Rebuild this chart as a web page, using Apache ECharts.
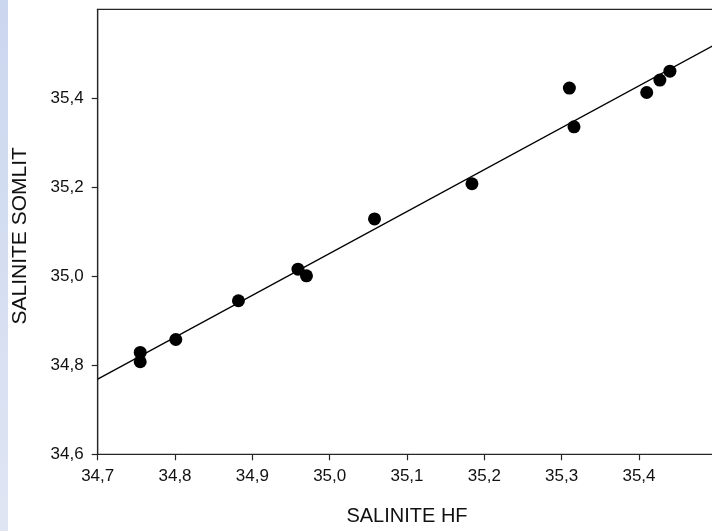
<!DOCTYPE html>
<html>
<head>
<meta charset="utf-8">
<script src="https://cdn.jsdelivr.net/npm/echarts@6/dist/echarts.min.js"></script>
<style>
  html, body { margin: 0; padding: 0; background: #fff; }
  #strip { position: absolute; left: 0; top: 0; width: 8px; height: 531px;
           background: linear-gradient(to bottom, #cbd7ef, #dfe5f3); }
  #chart { position: absolute; left: 0; top: 0; width: 712px; height: 531px; }
</style>
</head>
<body>
<div id="strip"></div>
<div id="chart"></div>
<script>
// Data
const salHF     = [34.755, 34.755, 34.801, 34.882, 34.959, 34.970, 35.058, 35.184, 35.310, 35.316, 35.410, 35.427, 35.440];
const salSOMLIT = [34.829, 34.808, 34.858, 34.945, 35.016, 35.001, 35.129, 35.208, 35.423, 35.336, 35.413, 35.441, 35.461];
const fitX = [34.7, 35.5];
const fitY = [34.769, 35.522];
const xTicks = [34.7, 34.8, 34.9, 35.0, 35.1, 35.2, 35.3, 35.4];
const yTicks = [34.6, 34.8, 35.0, 35.2, 35.4];

const fmt = v => (Math.round(v * 10) / 10).toFixed(1).replace('.', ',');
const font = "'Liberation Sans', Arial, sans-serif";
const axisColor = '#262626';

const chart = echarts.init(document.getElementById('chart'), null, { renderer: 'canvas' });
chart.setOption({
  animation: false,
  backgroundColor: 'transparent',
  grid: {
    left: 97.7, top: 9.3, width: 618.6, height: 445,
    outerBoundsMode: 'none', containLabel: false,
    show: true, borderColor: axisColor, borderWidth: 1.2, backgroundColor: 'transparent'
  },
  xAxis: {
    type: 'value', min: 34.7, max: 35.5, interval: 0.1,
    name: 'SALINITE HF', nameLocation: 'middle', nameGap: 52,
    nameTextStyle: { fontFamily: font, fontSize: 20, color: '#111' },
    axisLine: { show: true, onZero: false, lineStyle: { color: axisColor, width: 1.2 } },
    axisTick: { show: true, inside: false, length: 6, customValues: xTicks, lineStyle: { color: axisColor, width: 1.2 } },
    axisLabel: { customValues: xTicks, formatter: fmt, fontFamily: font, fontSize: 17, color: '#111', margin: 14 },
    splitLine: { show: false }
  },
  yAxis: {
    type: 'value', min: 34.6, max: 35.6, interval: 0.2,
    name: 'SALINITE SOMLIT', nameLocation: 'middle', nameGap: 67,
    nameTextStyle: { fontFamily: font, fontSize: 21, color: '#111', padding: [0, 8, 0, 0] },
    axisLine: { show: true, onZero: false, lineStyle: { color: axisColor, width: 1.2 } },
    axisTick: { show: true, inside: false, length: 6, customValues: yTicks, lineStyle: { color: axisColor, width: 1.2 } },
    axisLabel: { customValues: yTicks, formatter: fmt, fontFamily: font, fontSize: 17, color: '#111', margin: 14 },
    splitLine: { show: false }
  },
  series: [
    {
      type: 'line',
      data: fitX.map((x, i) => [x, fitY[i]]),
      showSymbol: false, symbol: 'none',
      lineStyle: { color: '#000', width: 1.3 },
      clip: true, silent: true, z: 2
    },
    {
      type: 'scatter',
      data: salHF.map((x, i) => [x, salSOMLIT[i]]),
      symbol: 'circle', symbolSize: 13,
      itemStyle: { color: '#000', opacity: 1 },
      z: 3
    }
  ]
});
</script>
</body>
</html>
